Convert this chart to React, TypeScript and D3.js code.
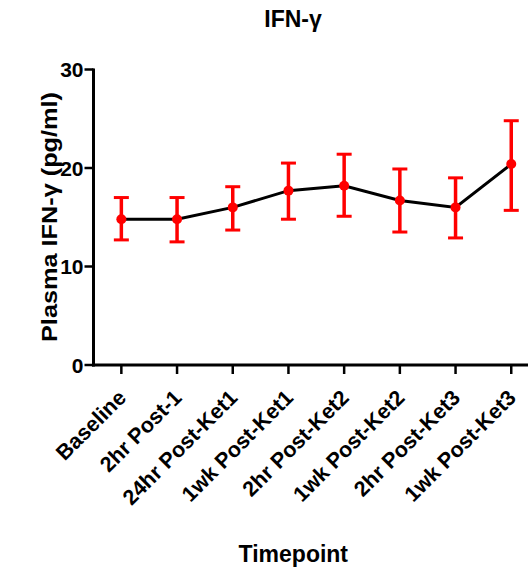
import React from "react";
import * as d3 from "d3";

const categories = [
  "Baseline",
  "2hr Post-1",
  "24hr Post-Ket1",
  "1wk Post-Ket1",
  "2hr Post-Ket2",
  "1wk Post-Ket2",
  "2hr Post-Ket3",
  "1wk Post-Ket3",
];
const means = [14.8, 14.8, 16.0, 17.7, 18.2, 16.7, 16.0, 20.4];
const upper = [17.0, 17.0, 18.1, 20.5, 21.4, 19.9, 19.0, 24.8];
const lower = [12.7, 12.5, 13.7, 14.8, 15.1, 13.5, 12.9, 15.7];
const yTicks = [0, 10, 20, 30];

const W = 528;
const H = 568;
const FONT = "'Liberation Sans', Arial, sans-serif";

export default function App() {
  const x0 = 93.5;
  const step = 55.7;
  const x = d3
    .scaleLinear()
    .domain([-0.5, 7.5])
    .range([x0, x0 + 8 * step]);
  const y = d3.scaleLinear().domain([0, 30]).range([365, 69.5]);

  const line = d3
    .line<number>()
    .x((_, i) => x(i))
    .y((d) => y(d));

  const red = "#ff0000";

  return (
    <svg
      width={W}
      height={H}
      style={{ position: "absolute", left: 0, top: 0, background: "#fff" }}
      fontFamily={FONT}
      fontWeight="bold"
    >
      <rect width={W} height={H} fill="#fff" />
      {/* title */}
      <text x={293} y={27} textAnchor="middle" fontSize={23}>
        IFN-γ
      </text>

      {/* y axis */}
      <line x1={x0} x2={x0} y1={y(30) - 1} y2={y(0) + 1.5} stroke="#000" strokeWidth={3} />
      {yTicks.map((t) => (
        <g key={t}>
          <line x1={x0 - 9} x2={x0} y1={y(t)} y2={y(t)} stroke="#000" strokeWidth={2.5} />
          <text x={x0 - 10} y={y(t) + 7.5} textAnchor="end" fontSize={21}>
            {t}
          </text>
        </g>
      ))}
      <text
        transform={`translate(56.5,217) rotate(-90)`}
        textAnchor="middle"
        fontSize={22}
        textLength={250}
        lengthAdjust="spacingAndGlyphs"
      >
        Plasma IFN-γ (pg/ml)
      </text>

      {/* x axis */}
      <line x1={x0 - 1.5} x2={W + 5} y1={y(0)} y2={y(0)} stroke="#000" strokeWidth={3} />
      {categories.map((c, i) => (
        <g key={c}>
          <line x1={x(i)} x2={x(i)} y1={y(0)} y2={y(0) + 9} stroke="#000" strokeWidth={2.5} />
          <text
            transform={`translate(${x(i) + 6},${y(0) + 34}) rotate(-45)`}
            textAnchor="end"
            fontSize={21.5}
          >
            {c}
          </text>
        </g>
      ))}
      <text x={293.3} y={562} textAnchor="middle" fontSize={23}>
        Timepoint
      </text>

      {/* data line */}
      <path d={line(means) || ""} fill="none" stroke="#000" strokeWidth={3} />

      {/* error bars */}
      {means.map((m, i) => (
        <g key={i} stroke={red}>
          <line x1={x(i)} x2={x(i)} y1={y(upper[i])} y2={y(lower[i])} strokeWidth={3.5} />
          <line x1={x(i) - 7.5} x2={x(i) + 7.5} y1={y(upper[i])} y2={y(upper[i])} strokeWidth={3} />
          <line x1={x(i) - 7.5} x2={x(i) + 7.5} y1={y(lower[i])} y2={y(lower[i])} strokeWidth={3} />
        </g>
      ))}
      {means.map((m, i) => (
        <circle key={i} cx={x(i)} cy={y(m)} r={5} fill={red} />
      ))}
    </svg>
  );
}
